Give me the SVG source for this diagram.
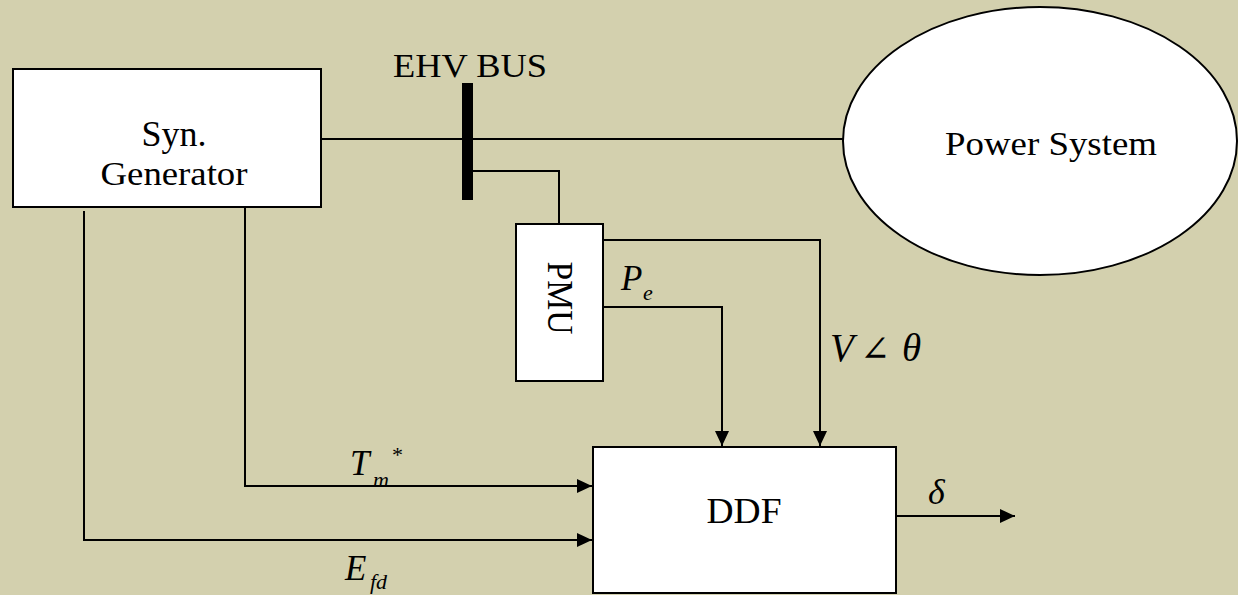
<svg xmlns="http://www.w3.org/2000/svg" width="1238" height="595" viewBox="0 0 1238 595" font-family="Liberation Serif, Tinos, Times New Roman, DejaVu Serif, serif">
<style>
.box{fill:#fff;stroke:#000;stroke-width:2}
.ln{fill:none;stroke:#000;stroke-width:2}
text{fill:#000}
.i{font-style:italic}
</style>
<defs>
<marker id="arr" markerUnits="userSpaceOnUse" markerWidth="16" markerHeight="14" refX="15" refY="7" orient="auto">
<path d="M0,0 L15,7 L0,14 Z" fill="#000"/>
</marker>
</defs>
<rect width="1238" height="595" fill="#d3d0ae"/>
<g id="connectors">
<line class="ln" x1="321" y1="139" x2="843" y2="139"/>
<rect x="462" y="83" width="11" height="117" fill="#000"/>
<polyline class="ln" points="473,171 559,171 559,224"/>
<polyline class="ln" points="604,240 820,240 820,446" marker-end="url(#arr)"/>
<polyline class="ln" points="603,307 722,307 722,446" marker-end="url(#arr)"/>
<polyline class="ln" points="245,207 245,486 592,486" marker-end="url(#arr)"/>
<polyline class="ln" points="84,211 84,540 592,540" marker-end="url(#arr)"/>
<line class="ln" x1="896" y1="516" x2="1015" y2="516" marker-end="url(#arr)"/>
</g>
<g id="syn-generator">
<rect class="box" x="13" y="69" width="308" height="138"/>
<text x="174" y="146" font-size="35" text-anchor="middle" textLength="65" lengthAdjust="spacingAndGlyphs">Syn.</text>
<text x="174" y="185" font-size="34" text-anchor="middle" textLength="147" lengthAdjust="spacingAndGlyphs">Generator</text>
</g>
<g id="ehv-bus">
<text x="470" y="77" font-size="33" text-anchor="middle" textLength="154" lengthAdjust="spacingAndGlyphs">EHV BUS</text>
</g>
<g id="power-system">
<ellipse class="box" cx="1040" cy="141" rx="197" ry="134"/>
<text x="1051" y="155" font-size="34" text-anchor="middle" textLength="212" lengthAdjust="spacingAndGlyphs">Power System</text>
</g>
<g id="pmu">
<rect class="box" x="516" y="224" width="87" height="157"/>
<text transform="translate(548,298) rotate(90)" font-size="35" text-anchor="middle" textLength="73" lengthAdjust="spacingAndGlyphs">PMU</text>
</g>
<g id="ddf">
<rect class="box" x="593" y="447" width="303" height="146"/>
<text x="744" y="523" font-size="35" text-anchor="middle" textLength="75" lengthAdjust="spacingAndGlyphs">DDF</text>
</g>
<g id="labels">
<text class="i" x="621" y="290" font-size="35">P</text>
<text class="i" x="643" y="300" font-size="22">e</text>
<text class="i" x="830" y="361" font-size="39">V</text>
<text x="860" y="361" font-size="36">∠</text>
<text class="i" x="902" y="361" font-size="39">θ</text>
<text class="i" x="350" y="475" font-size="35">T</text>
<text class="i" x="373" y="487" font-size="22">m</text>
<text x="392" y="462" font-size="22">*</text>
<text class="i" x="345" y="580" font-size="35">E</text>
<text class="i" x="370" y="589" font-size="22">fd</text>
<text class="i" x="928" y="504" font-size="36">δ</text>
</g>
</svg>
